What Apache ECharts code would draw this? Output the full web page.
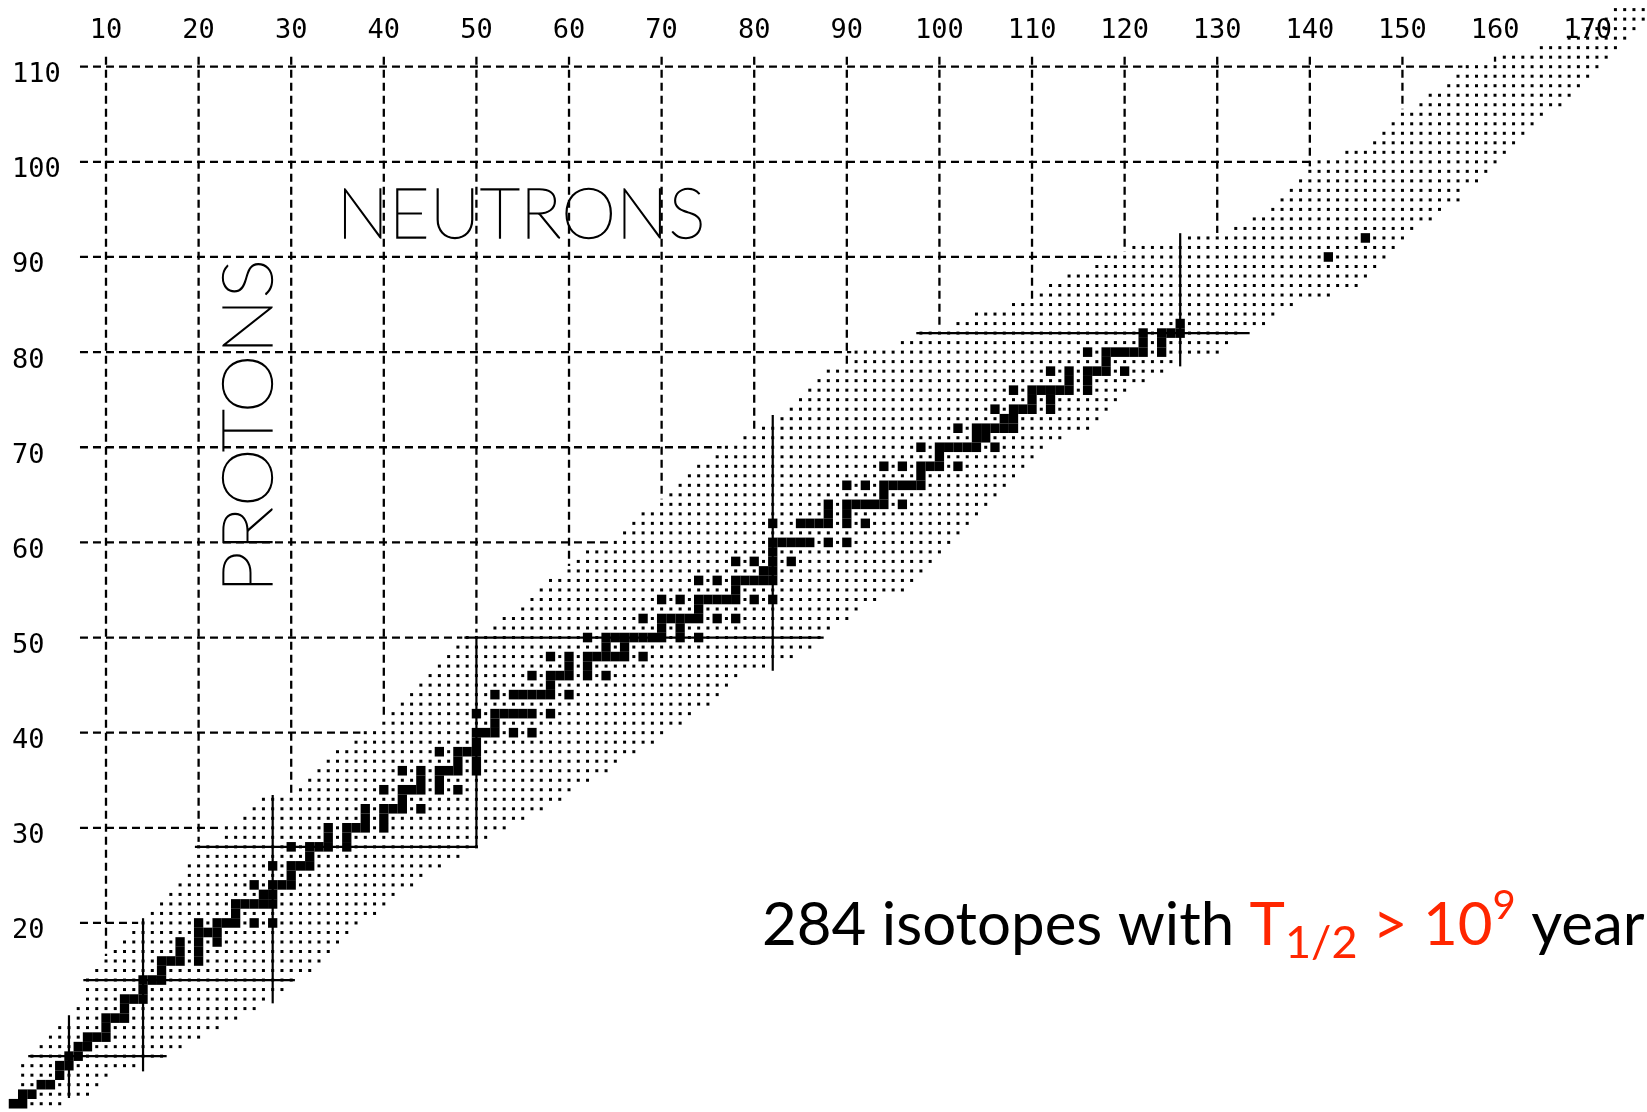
<!DOCTYPE html>
<html>
<head>
<meta charset="utf-8">
<script src="https://cdn.jsdelivr.net/npm/echarts@6/dist/echarts.min.js"></script>
<style>
html,body{margin:0;padding:0;background:#fff;}
#c{width:1647px;height:1112px;}
</style>
</head>
<body>
<div id="c"></div>
<script>
// ---------------- data ----------------
// tick labels
const xTicks = [10,20,30,40,50,60,70,80,90,100,110,120,130,140,150,160,170];
const yTicks = [20,30,40,50,60,70,80,90,100,110];

// known nuclides: for each proton number Z (array index), lowest and highest neutron number
const knownMin = [null,
  0,1,1,1,1,2,3,4,5,7, 7,8,8,8,9,10,11,12,13,14,
  15,16,17,18,19,19,20,20,23,23, 25,26,27,31,32,33,34,35,37,38,
  40,41,42,43,44,45,46,47,48,49, 52,53,55,56,57,58,60,61,62,65,
  66,67,68,70,71,72,73,74,76,77, 79,81,83,84,85,86,87,88,91,91,
  96,98,102,104,108,111,112,114,117,119, 121,127,132,134,136,137,138,139,140,141,
  144,147,148,149,150,152,153,155,156,157, 161,165,168,170,172,173];
const knownMax = [null,
  5,8,9,10,13,16,18,20,22,24, 26,27,29,30,32,33,34,35,36,37,
  39,40,41,43,44,46,48,50,51,53, 55,57,59,60,62,64,65,67,69,70,
  72,73,75,76,77,78,81,84,86,87, 88,90,91,93,96,97,98,99,100,101,
  102,103,104,105,106,107,108,109,110,111, 113,116,117,118,119,120,122,124,125,130,
  131,132,135,136,138,142,145,146,147,148, 149,150,151,153,154,156,156,158,159,160,
  161,162,163,164,165,167,168,169,170,171, 172,173,174,175,176,176];

// stable / very long lived nuclides: neutron numbers for each Z (array index)
const stableN = [[],
  [0,1],[1,2],[3,4],[5],[5,6],[6,7],[7,8],[8,9,10],[10],[10,11,12],
  [12],[12,13,14],[14],[14,15,16],[16],[16,17,18,20],[18,20],[18,20,22],[20,21,22],[20,22,23,24,26,28],
  [24],[24,25,26,27,28],[27,28],[26,28,29,30],[30],[28,30,31,32],[32],[30,32,33,34,36],[34,36],[34,36,37,38,40],
  [38,40],[38,40,41,42,44],[42],[40,42,43,44,46,48],[44,46],[42,44,46,47,48,50],[48,50],[46,48,49,50],[50],[50,51,52,54,56],
  [52],[50,52,53,54,55,56,58],[],[52,54,55,56,57,58,60],[58],[56,58,59,60,62,64],[60,62],[58,60,62,63,64,65,66,68],[64,66],[62,64,65,66,67,68,69,70,72,74],
  [70,72],[68,70,71,72,73,74,76,78],[74],[70,72,74,75,76,77,78,80,82],[78],[74,76,78,79,80,81,82],[81,82],[78,80,82,84],[82],[82,83,84,85,86,88,90],
  [],[82,85,86,87,88,90,92],[88,90],[88,90,91,92,93,94,96],[94],[90,92,94,95,96,97,98],[98],[94,96,98,99,100,102],[100],[98,100,101,102,103,104,106],
  [104,105],[102,104,105,106,107,108],[107,108],[106,108,109,110,112],[110,112],[108,110,111,112,113,114,116],[114,116],[112,114,116,117,118,120],[118],[116,118,119,120,121,122,124],
  [122,124],[122,124,125,126],[126],[],[],[],[],[],[],[142],
  [],[146]];

// magic-number lines: vertical [N, Zfrom, Zto], horizontal [Z, Nfrom, Nto]
const magicN = [[6,1.6,10.3],[14,4.4,20.5],[28,11.55,33.45],[50,27.9,50.0],[82,46.5,73.4],[126,78.5,92.5]];
const magicZ = [[6,1.6,16.55],[14,7.55,30.4],[28,19.6,50.1],[50,48.7,87.5],[82,97.5,133.5]];

// ---------------- build series data ----------------
const cells = [];
for (let z = 1; z < knownMin.length; z++) {
  for (let n = knownMin[z]; n <= knownMax[z]; n++) cells.push([n, z]);
}
const stable = [];
stableN.forEach((ns, z) => ns.forEach(n => stable.push([n, z])));

const GRID_TOP_Z = 111.05, GRID_LEFT_N = 7.19;
function topZ(n) {
  let m = -Infinity;
  for (let z = 1; z < knownMin.length; z++) if (knownMin[z] <= n && n <= knownMax[z]) m = Math.max(m, z);
  return m;
}
const gridSegs = [];
xTicks.forEach(n => { const e = topZ(n); if (e < GRID_TOP_Z) gridSegs.push([n, GRID_TOP_Z, n, e]); });
yTicks.forEach(z => gridSegs.push([GRID_LEFT_N, z, knownMin[z], z]));

const magicSegs = [];
magicN.forEach(m => magicSegs.push([m[0], m[1], m[0], m[2]]));
magicZ.forEach(m => magicSegs.push([m[1], m[0], m[2], m[0]]));

function lineRender(dash, width) {
  return function (params, api) {
    const p1 = api.coord([api.value(0), api.value(1)]);
    const p2 = api.coord([api.value(2), api.value(3)]);
    return {type: 'line', shape: {x1: p1[0], y1: p1[1], x2: p2[0], y2: p2[1]},
      style: {stroke: '#000', lineWidth: width, lineDash: dash}};
  };
}

// ---------------- chart ----------------
const chart = echarts.init(document.getElementById('c'));
const labelFont = {fontFamily: 'DejaVu Sans Mono', fontSize: 27, color: '#000'};
chart.setOption({
  animation: false,
  backgroundColor: '#fff',
  grid: {left: 0, right: 0, top: 0, bottom: 0, containLabel: false},
  xAxis: {
    type: 'value', position: 'top', min: -1.447, max: 176.41, z: 10,
    axisLine: {show: false}, axisTick: {show: false}, splitLine: {show: false},
    axisLabel: Object.assign({inside: true, customValues: xTicks, margin: 31, verticalAlign: 'middle'}, labelFont)
  },
  yAxis: {
    type: 'value', min: 0.13, max: 117.01, z: 10,
    axisLine: {show: false}, axisTick: {show: false}, splitLine: {show: false},
    axisLabel: Object.assign({inside: true, customValues: yTicks, margin: 12, align: 'left',
      verticalAlign: 'top', lineHeight: 17}, labelFont)
  },
  series: [
    {type: 'custom', data: gridSegs, encode: {x: [0, 2], y: [1, 3]}, renderItem: lineRender([8, 5], 2.3), silent: true, z: 1},
    {type: 'scatter', data: cells, symbol: 'rect', symbolSize: [9.8, 10.0], silent: true, z: 2, progressive: 0,
      itemStyle: {color: '#fff', opacity: 1}},
    {type: 'scatter', data: cells, symbol: 'rect', symbolSize: 3.0, silent: true, z: 3, progressive: 0,
      itemStyle: {color: '#000', opacity: 1}},
    {type: 'custom', data: magicSegs, encode: {x: [0, 2], y: [1, 3]}, renderItem: lineRender(null, 2.2), silent: true, z: 4},
    {type: 'scatter', data: stable, symbol: 'rect', symbolSize: [9.3, 9.6], silent: true, z: 5, progressive: 0,
      itemStyle: {color: '#000', opacity: 1}}
  ],
  graphic: [
    {type: 'text', x: 521, y: 215, z: 20, silent: true,
      style: {text: 'NEUTRONS', font: '100 70px Lato', fill: '#000', stroke: '#000', lineWidth: 1.3,
        align: 'center', verticalAlign: 'middle'}},
    {type: 'text', x: 249.5, y: 426, rotation: Math.PI / 2, scaleX: 1.07, z: 20, silent: true,
      style: {text: 'PROTONS', font: '100 70px Lato', fill: '#000', stroke: '#000', lineWidth: 1.3,
        align: 'center', verticalAlign: 'middle'}},
    {type: 'text', x: 762, y: 926, z: 20, silent: true,
      style: {
        text: '{a|284 isotopes with }{r|T}{s|1/2}{r| > 10}{p|9}{a| year}',
        align: 'left', verticalAlign: 'middle',
        rich: {
          a: {fontFamily: 'Lato', fontSize: 60, fill: '#000', lineHeight: 80, verticalAlign: 'middle'},
          r: {fontFamily: 'Lato', fontSize: 60, fill: '#ff2600', lineHeight: 80, verticalAlign: 'middle'},
          s: {fontFamily: 'Lato', fontSize: 45, fill: '#ff2600', lineHeight: 16, verticalAlign: 'bottom'},
          p: {fontFamily: 'Lato', fontSize: 40, fill: '#ff2600', lineHeight: 60, verticalAlign: 'top'}
        }
      }}
  ]
});
</script>
</body>
</html>
